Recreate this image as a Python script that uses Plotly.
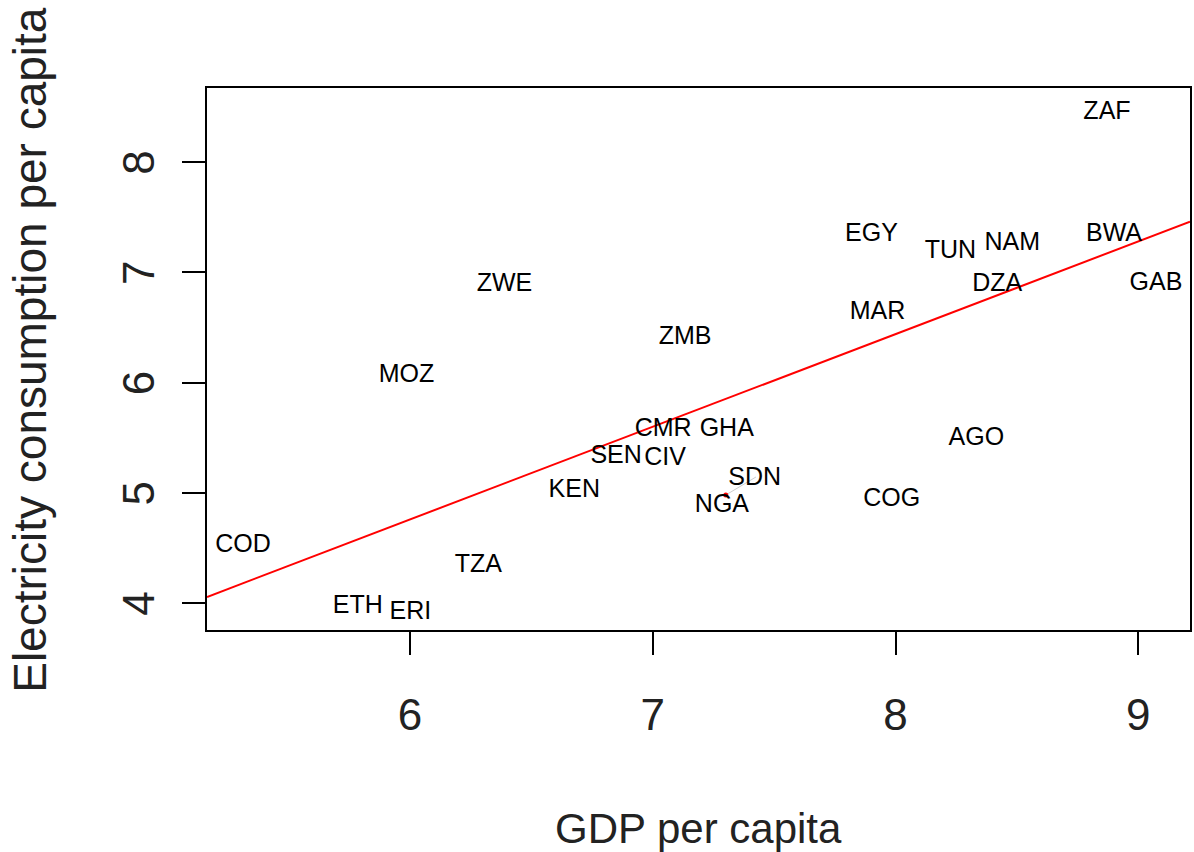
import plotly.graph_objects as go

# Country codes and their (GDP per capita, electricity consumption per capita) values (log scale)
countries = ["COD", "ETH", "ERI", "TZA", "MOZ", "ZWE", "KEN", "SEN", "CIV", "CMR",
             "GHA", "ZMB", "NGA", "SDN", "COG", "AGO", "MAR", "EGY", "TUN", "NAM",
             "DZA", "ZAF", "BWA", "GAB"]
gdp = [5.312, 5.785, 6.002, 6.282, 5.986, 6.389, 6.677, 6.849, 7.051, 7.043,
       7.305, 7.133, 7.285, 7.420, 7.984, 8.333, 7.926, 7.901, 8.226, 8.481,
       8.419, 8.871, 8.900, 9.073]
elec = [4.517, 3.963, 3.909, 4.336, 6.060, 6.885, 5.016, 5.325, 5.306, 5.570,
        5.570, 6.404, 4.880, 5.125, 4.934, 5.488, 6.631, 7.339, 7.185, 7.257,
        6.885, 8.446, 7.339, 6.894]

# Fitted regression line coefficients
fit_intercept = -0.288
fit_slope = 0.841

# stray point near NGA and its faint leader segment toward SDN
stray_x = [7.301]
stray_y = [4.980]
leader_x = [7.301, 7.425]
leader_y = [4.980, 5.143]

x_range = [5.164, 9.213]
y_range = [3.755, 8.673]
x_ticks = [6, 7, 8, 9]
y_ticks = [4, 5, 6, 7, 8]

fig = go.Figure()

fig.add_trace(go.Scatter(
    x=x_range, y=[fit_intercept + fit_slope * v for v in x_range],
    mode="lines", line=dict(color="#ff0000", width=2), showlegend=False,
    hoverinfo="skip"))

fig.add_trace(go.Scatter(
    x=leader_x, y=leader_y, mode="lines",
    line=dict(color="#cccccc", width=1), showlegend=False, hoverinfo="skip"))

fig.add_trace(go.Scatter(
    x=stray_x, y=stray_y, mode="markers",
    marker=dict(color="#ff0000", size=5), showlegend=False))

fig.add_trace(go.Scatter(
    x=gdp, y=elec, mode="text", text=countries, textposition="middle center",
    textfont=dict(family="Liberation Sans, Arial, sans-serif", size=25, color="black"),
    showlegend=False))

axis_common = dict(
    showgrid=False, zeroline=False, showline=True, linecolor="black", linewidth=2,
    mirror=True, ticks="outside", ticklen=23, tickwidth=2, tickcolor="black",
    tickfont=dict(family="Liberation Sans Narrow, Liberation Sans, Arial, sans-serif",
                  size=44, color="#222222"),
)

fig.update_xaxes(range=x_range, tickvals=x_ticks, ticklabelstandoff=22, **axis_common)
fig.update_yaxes(range=y_range, tickvals=y_ticks, tickangle=-90, ticklabelstandoff=10,
                 ticklabelshift=7, **axis_common)

fig.add_annotation(text="GDP per capita", xref="paper", yref="paper", x=0.5, y=0,
                   yanchor="middle", yshift=-198, showarrow=False,
                   font=dict(family="Liberation Sans, Arial, sans-serif", size=42,
                             color="#222222"))
fig.add_annotation(text="Electricity consumption per capita", xref="paper", yref="paper",
                   x=0, y=0.517, xanchor="center", yanchor="middle", xshift=-177,
                   textangle=-90, showarrow=False,
                   font=dict(family="Liberation Sans, Arial, sans-serif", size=46,
                             color="#222222"))

fig.update_layout(
    width=1194, height=852,
    margin=dict(l=207, r=2, t=88, b=222),
    paper_bgcolor="white", plot_bgcolor="white",
)

fig.write_html(
    "out.html",
    config={"displayModeBar": False},
    post_script="document.body.style.margin='0';document.body.style.overflow='hidden';",
)
